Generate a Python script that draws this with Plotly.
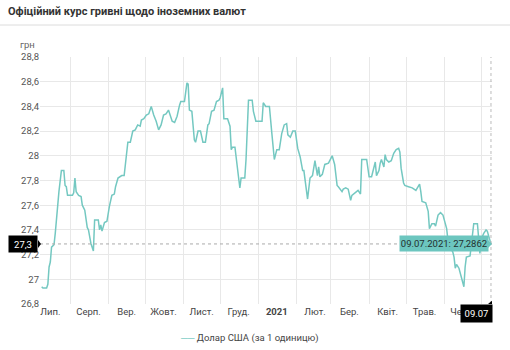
import plotly.graph_objects as go

# Official UAH/USD rate, July 2020 - July 2021
dates = [
    "2020-07-09", "2020-07-10", "2020-07-13", "2020-07-14", "2020-07-15", "2020-07-16", "2020-07-17",
    "2020-07-19", "2020-07-20", "2020-07-22", "2020-07-23", "2020-07-25", "2020-07-27", "2020-07-28",
    "2020-07-29", "2020-07-30", "2020-08-03", "2020-08-04", "2020-08-05", "2020-08-06", "2020-08-08",
    "2020-08-10", "2020-08-11", "2020-08-13", "2020-08-15", "2020-08-16", "2020-08-18", "2020-08-20",
    "2020-08-21", "2020-08-24", "2020-08-25", "2020-08-26", "2020-08-27", "2020-08-29", "2020-08-31",
    "2020-09-02", "2020-09-04", "2020-09-06", "2020-09-07", "2020-09-09", "2020-09-12", "2020-09-14",
    "2020-09-15", "2020-09-17", "2020-09-19", "2020-09-21", "2020-09-23", "2020-09-25", "2020-09-27",
    "2020-09-28", "2020-09-30", "2020-10-02", "2020-10-04", "2020-10-06", "2020-10-08", "2020-10-10",
    "2020-10-12", "2020-10-14", "2020-10-16", "2020-10-18", "2020-10-20", "2020-10-21", "2020-10-23",
    "2020-10-25", "2020-10-27", "2020-10-29", "2020-10-30", "2020-11-02", "2020-11-03", "2020-11-04",
    "2020-11-05", "2020-11-06", "2020-11-08", "2020-11-10", "2020-11-11", "2020-11-13", "2020-11-15",
    "2020-11-17", "2020-11-19", "2020-11-21", "2020-11-22", "2020-11-24", "2020-11-26", "2020-11-28",
    "2020-11-30", "2020-12-01", "2020-12-03", "2020-12-04", "2020-12-07", "2020-12-09", "2020-12-10",
    "2020-12-11", "2020-12-13", "2020-12-14", "2020-12-16", "2020-12-17", "2020-12-18", "2020-12-21",
    "2020-12-22", "2020-12-24", "2020-12-27", "2020-12-28", "2020-12-30", "2021-01-04", "2021-01-05",
    "2021-01-07", "2021-01-10", "2021-01-12", "2021-01-14", "2021-01-16", "2021-01-18", "2021-01-20",
    "2021-01-22", "2021-01-24", "2021-01-25", "2021-01-27", "2021-01-29", "2021-01-31", "2021-02-02",
    "2021-02-04", "2021-02-06", "2021-02-07", "2021-02-09", "2021-02-10", "2021-02-12", "2021-02-14",
    "2021-02-16", "2021-02-18", "2021-02-19", "2021-02-20", "2021-02-22", "2021-02-24", "2021-02-27",
    "2021-03-02", "2021-03-04", "2021-03-06", "2021-03-07", "2021-03-10", "2021-03-11", "2021-03-13",
    "2021-03-15", "2021-03-17", "2021-03-18", "2021-03-21", "2021-03-23", "2021-03-25", "2021-03-26",
    "2021-03-30", "2021-04-01", "2021-04-03", "2021-04-06", "2021-04-07", "2021-04-09", "2021-04-10",
    "2021-04-11", "2021-04-13", "2021-04-14", "2021-04-15", "2021-04-17", "2021-04-19", "2021-04-21",
    "2021-04-23", "2021-04-25", "2021-04-26", "2021-04-27", "2021-04-29", "2021-04-30", "2021-05-03",
    "2021-05-06", "2021-05-09", "2021-05-12", "2021-05-13", "2021-05-14", "2021-05-17", "2021-05-19",
    "2021-05-20", "2021-05-22", "2021-05-24", "2021-05-25", "2021-05-27", "2021-05-29", "2021-05-31",
    "2021-06-01", "2021-06-03", "2021-06-04", "2021-06-06", "2021-06-08", "2021-06-09", "2021-06-10",
    "2021-06-11", "2021-06-13", "2021-06-15", "2021-06-17", "2021-06-18", "2021-06-19", "2021-06-22",
    "2021-06-23", "2021-06-25", "2021-06-28", "2021-06-29", "2021-06-30", "2021-07-01", "2021-07-03",
    "2021-07-05", "2021-07-06", "2021-07-08", "2021-07-09",
]
usd = [
    26.94, 26.93, 26.93, 26.96, 27.10, 27.14, 27.26,
    27.28, 27.37, 27.62, 27.71, 27.88, 27.88, 27.76,
    27.75, 27.68, 27.68, 27.70, 27.82, 27.71, 27.68,
    27.67, 27.60, 27.56, 27.42, 27.40, 27.29, 27.23,
    27.48, 27.48, 27.40, 27.44, 27.39, 27.46, 27.47,
    27.59, 27.68, 27.69, 27.75, 27.82, 27.84, 27.84,
    27.95, 28.11, 28.11, 28.20, 28.21, 28.25, 28.24,
    28.29, 28.30, 28.33, 28.34, 28.40, 28.33, 28.28,
    28.21, 28.25, 28.33, 28.34, 28.37, 28.34, 28.28,
    28.27, 28.32, 28.41, 28.44, 28.44, 28.51, 28.59,
    28.58, 28.37, 28.36, 28.13, 28.11, 28.20, 28.20,
    28.11, 28.11, 28.25, 28.26, 28.36, 28.37, 28.44,
    28.45, 28.47, 28.55, 28.30, 28.30, 28.24, 28.05,
    28.07, 28.07, 27.97, 27.82, 27.74, 27.82, 27.82,
    27.97, 28.45, 28.45, 28.36, 28.28, 28.28, 28.43,
    28.40, 28.40, 28.18, 27.97, 28.05, 28.05, 28.18,
    28.25, 28.26, 28.17, 28.15, 28.20, 28.20, 28.06,
    27.99, 27.88, 27.88, 27.75, 27.65, 27.82, 27.84,
    27.96, 27.84, 27.91, 27.83, 27.85, 27.93, 27.94,
    28.00, 27.93, 27.76, 27.75, 27.71, 27.73, 27.74,
    27.73, 27.64, 27.68, 27.70, 27.72, 27.69, 27.97,
    27.97, 27.83, 27.83, 27.95, 27.84, 27.88, 27.94,
    27.97, 27.91, 28.01, 27.97, 27.95, 27.96, 28.02,
    28.05, 28.06, 28.03, 27.90, 27.78, 27.76, 27.75,
    27.74, 27.72, 27.77, 27.71, 27.63, 27.62, 27.55,
    27.41, 27.45, 27.45, 27.43, 27.52, 27.54, 27.52,
    27.48, 27.41, 27.32, 27.26, 27.22, 27.18, 27.09,
    27.12, 27.09, 27.01, 26.94, 27.10, 27.18, 27.19,
    27.29, 27.45, 27.45, 27.35, 27.21, 27.32, 27.37,
    27.40, 27.39, 27.32, 27.2862,
]

month_ticks = [
    "2020-07-16", "2020-08-16", "2020-09-16", "2020-10-16", "2020-11-16", "2020-12-16",
    "2021-01-16", "2021-02-16", "2021-03-16", "2021-04-16", "2021-05-16", "2021-06-16",
]
month_labels = ["Лип.", "Серп.", "Вер.", "Жовт.", "Лист.", "Груд.",
                "<b>2021</b>", "Лют.", "Бер.", "Квіт.", "Трав.", "Черв."]
y_ticks = [26.8, 27.0, 27.2, 27.4, 27.6, 27.8, 28.0, 28.2, 28.4, 28.6, 28.8]
y_labels = ["26,8", "27", "27,2", "27,4", "27,6", "27,8", "28", "28,2", "28,4", "28,6", "28,8"]

series_name = "Долар США (за 1 одиницю)"
title_text = "Офіційний курс гривні щодо іноземних валют"

LINE = "#74c8c1"
TIP = "#6cc6bf"
GRID = "#e8e8e8"
FONT = "Roboto"

last_date, last_val = dates[-1], usd[-1]
y_, m_, d_ = last_date.split("-")
tip_text = f"{d_}.{m_}.{y_}: " + f"{last_val:.4f}".replace(".", ",")
axis_tip = f"{last_val:.1f}".replace(".", ",")
date_tip = f"{d_}.{m_}"

fig = go.Figure()
fig.add_trace(go.Scatter(
    x=dates, y=usd, mode="lines", name=series_name,
    line=dict(color=LINE, width=1.5), hoverinfo="skip", showlegend=False,
))

W, H = 510, 350
ML, MR, MT, MB = 40, 18, 57, 46
PW, PH = W - ML - MR, H - MT - MB


def px(xp):
    return (xp - ML) / PW


def py(yp):
    return (H - MB - yp) / PH


fig.update_layout(
    width=W, height=H,
    margin=dict(l=ML, r=MR, t=MT, b=MB),
    paper_bgcolor="white", plot_bgcolor="white",
    font=dict(family=FONT, size=10, color="#555"),
    title=dict(text=title_text, x=8 / W, xanchor="left", y=1 - 11 / H, yanchor="middle",
               xref="container", yref="container",
               font=dict(family=FONT, size=11, color="#333", weight="bold")),
    xaxis=dict(
        type="date", range=["2020-07-07 15:00", "2021-07-09 20:00"],
        tickmode="array", tickvals=month_ticks, ticktext=month_labels,
        showgrid=False, ticks="", zeroline=False, showline=False,
        tickfont=dict(family=FONT, size=9.5, color="#444"),
        minor=dict(dtick="M1", tick0="2020-08-01", showgrid=True, gridcolor=GRID, gridwidth=1, ticks=""),
    ),
    yaxis=dict(
        range=[26.8, 28.8], tickmode="array", tickvals=y_ticks, ticktext=y_labels,
        showgrid=True, gridcolor=GRID, gridwidth=1, zeroline=False, showline=False,
        tickfont=dict(family=FONT, size=9.5, color="#555"),
    ),
    showlegend=False,
)

# header separator
fig.add_shape(type="line", xref="paper", yref="paper", x0=px(0), x1=px(W), y0=py(25), y1=py(25),
              line=dict(color="#dcdcdc", width=1))

# unit label
fig.add_annotation(text="грн", xref="paper", yref="paper", x=px(18), y=py(44),
                   xanchor="left", yanchor="middle", showarrow=False,
                   font=dict(family=FONT, size=9.5, color="#666"))

# crosshair through the latest point
fig.add_shape(type="line", xref="paper", yref="y", x0=0, x1=1, y0=last_val, y1=last_val,
              line=dict(color="#aaa", width=1, dash="dot"))
fig.add_shape(type="line", xref="x", yref="paper", x0=last_date, x1=last_date, y0=0, y1=1,
              line=dict(color="#bbb", width=1, dash="dot"))

# value label on the y axis
fig.add_annotation(text=axis_tip, xref="paper", yref="y", x=px(38), y=last_val,
                   xanchor="right", yanchor="middle", showarrow=False,
                   bgcolor="black", width=26, height=14, borderpad=1,
                   font=dict(family=FONT, size=9.5, color="white"))
fig.add_shape(type="path", xref="paper", yref="y", xsizemode="pixel", ysizemode="pixel",
              xanchor=px(38), yanchor=last_val, path="M 0,4 L 3,0 L 0,-4 Z",
              fillcolor="black", line=dict(width=0))

# date label under the x axis
fig.add_annotation(text=date_tip, xref="x", yref="paper", x=last_date, y=0,
                   xanchor="right", yanchor="top", xshift=2, showarrow=False,
                   bgcolor="black", width=29, height=15, borderpad=1,
                   font=dict(family=FONT, size=9.5, color="white"))
fig.add_shape(type="path", xref="x", yref="paper", xsizemode="pixel", ysizemode="pixel",
              xanchor=last_date, yanchor=0, path="M -3,0 L 2,4 L 2,0 Z",
              fillcolor="black", line=dict(width=0))

# tooltip at the latest point
fig.add_annotation(text=tip_text, xref="x", yref="y", x=last_date, y=last_val,
                   xanchor="right", yanchor="middle", xshift=-2, showarrow=False,
                   bgcolor=TIP, width=86, height=13, borderpad=1,
                   font=dict(family=FONT, size=9.5, color="#23302f"))
fig.add_shape(type="path", xref="x", yref="y", xsizemode="pixel", ysizemode="pixel",
              xanchor=last_date, yanchor=last_val, path="M -3,4 L 1,0 L -3,-4 Z",
              fillcolor=TIP, line=dict(width=0))

# legend: short series swatch followed by the series name
fig.add_annotation(text=f"<span style='color:{LINE}'><b>──</b></span> {series_name}",
                   xref="paper", yref="paper", x=px(249), y=py(338),
                   xanchor="center", yanchor="middle", showarrow=False,
                   font=dict(family=FONT, size=9.5, color="#444"))

fig.write_html("out.html")
